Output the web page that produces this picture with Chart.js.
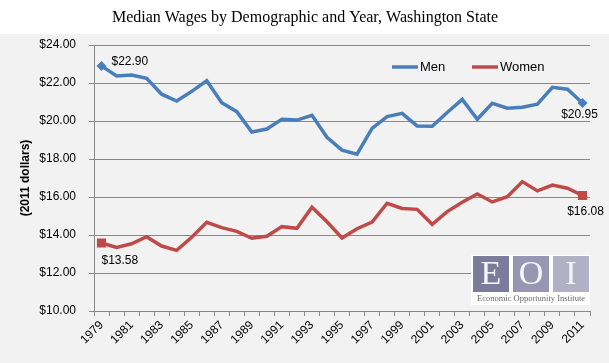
<!DOCTYPE html>
<html>
<head>
<meta charset="utf-8">
<script src="https://cdn.jsdelivr.net/npm/chart.js@4.4.1/dist/chart.umd.min.js"></script>
<style>
  html, body { margin: 0; padding: 0; background: #ffffff; }
  #wrap { width: 609px; height: 363px; position: relative; }
</style>
</head>
<body>
<div id="wrap"><canvas id="c" width="609" height="363"></canvas></div>
<script>
// ---- data ----
const years = ['1979','1980','1981','1982','1983','1984','1985','1986','1987','1988','1989',
               '1990','1991','1992','1993','1994','1995','1996','1997','1998','1999','2000',
               '2001','2002','2003','2004','2005','2006','2007','2008','2009','2010','2011'];
const menWages = [22.90, 22.37, 22.42, 22.25, 21.41, 21.05, 21.56, 22.12, 20.96, 20.49, 19.42,
                  19.58, 20.09, 20.05, 20.30, 19.14, 18.47, 18.25, 19.61, 20.23, 20.40, 19.74,
                  19.72, 20.45, 21.14, 20.09, 20.93, 20.67, 20.72, 20.89, 21.77, 21.67, 20.95];
const womenWages = [13.58, 13.35, 13.54, 13.91, 13.42, 13.19, 13.88, 14.67, 14.39, 14.19, 13.83,
                    13.93, 14.44, 14.35, 15.46, 14.70, 13.84, 14.33, 14.68, 15.67, 15.40, 15.35,
                    14.56, 15.23, 15.72, 16.16, 15.74, 16.02, 16.81, 16.32, 16.63, 16.46, 16.08];
const seriesNames = ['Men', 'Women'];
const yTicks = [10, 12, 14, 16, 18, 20, 22, 24];
const chartTitle = 'Median Wages by Demographic and Year, Washington State';
const yAxisTitle = '(2011 dollars)';
const logoLetters = ['E', 'O', 'I'];
const logoCaption = 'Economic Opportunity Institute';

// ---- styles ----
const MEN_COLOR = '#4a7ebb';
const WOMEN_COLOR = '#be4b48';
const GRID = '#888888';
const SANS = '"Liberation Sans", Arial, sans-serif';
const SERIF = '"Liberation Serif", "DejaVu Serif", serif';
const last = years.length - 1;

const endOnly = (r) => (ctx) => (ctx.dataIndex === 0 || ctx.dataIndex === last) ? r : 0;
const money = (v) => '$' + v.toFixed(2);

const bgPlugin = {
  id: 'bg',
  beforeDraw(chart) {
    const c = chart.ctx;
    c.save();
    c.fillStyle = '#ffffff';
    c.fillRect(0, 0, chart.width, chart.height);
    c.fillStyle = '#f2f2f2';
    c.fillRect(0, 34, chart.width, chart.height - 34);
    c.fillStyle = '#000';
    c.font = '16px ' + SERIF;
    c.textAlign = 'center';
    c.textBaseline = 'middle';
    c.fillText(chartTitle, 305, 18);
    c.restore();
  }
};

const annotPlugin = {
  id: 'annot',
  afterDatasetsDraw(chart) {
    const c = chart.ctx;
    c.save();
    // legend
    c.lineWidth = 3.5;
    c.lineCap = 'butt';
    const legendItems = [
      { name: seriesNames[0], color: MEN_COLOR, x0: 392, x1: 418, tx: 420 },
      { name: seriesNames[1], color: WOMEN_COLOR, x0: 472, x1: 498, tx: 500 }
    ];
    c.font = '13px ' + SANS;
    c.textBaseline = 'middle';
    c.textAlign = 'left';
    legendItems.forEach(it => {
      c.strokeStyle = it.color;
      c.beginPath(); c.moveTo(it.x0, 67); c.lineTo(it.x1, 67); c.stroke();
      c.fillStyle = '#000';
      c.fillText(it.name, it.tx, 67);
    });

    // data labels at ends
    const m = chart.getDatasetMeta(0).data;
    const w = chart.getDatasetMeta(1).data;
    c.font = '12px ' + SANS;
    c.fillStyle = '#000';
    c.textAlign = 'left';
    c.fillText(money(menWages[0]), m[0].x + 10, m[0].y - 4);
    c.textAlign = 'center';
    c.fillText(money(menWages[last]), m[last].x - 3, m[last].y + 12);
    c.textAlign = 'left';
    c.fillText(money(womenWages[0]), w[0].x, w[0].y + 18);
    c.textAlign = 'center';
    c.fillText(money(womenWages[last]), w[last].x + 3, w[last].y + 16);

    // logo
    c.fillStyle = '#ffffff';
    c.fillRect(471, 255, 119, 50);
    const boxColors = ['#7d7b9c', '#9896b2', '#b2b0c5'];
    const boxX = [473, 513, 553];
    c.font = '34px ' + SERIF;
    c.textAlign = 'center';
    c.textBaseline = 'alphabetic';
    logoLetters.forEach((L, i) => {
      c.fillStyle = boxColors[i];
      c.fillRect(boxX[i], 256, 36, 36);
      c.fillStyle = '#f6f6fa';
      c.fillText(L, boxX[i] + 18, 284);
    });
    c.fillStyle = '#6a6a6a';
    c.font = '8.5px ' + SERIF;
    c.textBaseline = 'middle';
    c.fillText(logoCaption, 531, 298.5);
    c.restore();
  }
};

new Chart(document.getElementById('c'), {
  type: 'line',
  data: {
    labels: years,
    datasets: [
      {
        label: seriesNames[0],
        data: menWages,
        borderColor: MEN_COLOR,
        backgroundColor: MEN_COLOR,
        borderWidth: 3.5,
        tension: 0,
        pointStyle: 'rectRot',
        pointRadius: endOnly(5),
        pointHoverRadius: endOnly(5),
        pointBorderWidth: 0
      },
      {
        label: seriesNames[1],
        data: womenWages,
        borderColor: WOMEN_COLOR,
        backgroundColor: WOMEN_COLOR,
        borderWidth: 3.5,
        tension: 0,
        pointStyle: 'rect',
        pointRadius: endOnly(6.5),
        pointHoverRadius: endOnly(6.5),
        pointBorderWidth: 0
      }
    ]
  },
  options: {
    responsive: false,
    animation: false,
    events: [],
    layout: { padding: { top: 45, right: 19, left: 0, bottom: 0 } },
    plugins: {
      legend: { display: false },
      title: { display: false },
      tooltip: { enabled: false }
    },
    scales: {
      x: {
        type: 'category',
        offset: true,
        grid: { display: true, drawOnChartArea: false, drawTicks: true, tickLength: 5, color: GRID, offset: true },
        border: { display: true, color: GRID, width: 1 },
        ticks: {
          autoSkip: false,
          maxRotation: 45,
          minRotation: 45,
          padding: 2,
          color: '#000',
          font: { family: SANS, size: 12 },
          callback: function(val, idx) { return idx % 2 === 0 ? this.getLabelForValue(val) : ''; }
        },
        afterFit(scale) { scale.height = 52; }
      },
      y: {
        min: yTicks[0],
        max: yTicks[yTicks.length - 1],
        afterBuildTicks(scale) { scale.ticks = yTicks.map(v => ({ value: v })); },
        grid: { color: GRID, lineWidth: 1, drawTicks: true, tickLength: 5 },
        border: { display: true, color: GRID, width: 1 },
        ticks: {
          padding: 13,
          color: '#000',
          font: { family: SANS, size: 12 },
          callback: (v) => money(v)
        },
        title: {
          display: true,
          text: yAxisTitle,
          color: '#000',
          font: { family: SANS, size: 12, weight: 'bold' },
          padding: { top: 18, bottom: 0 }
        },
        afterFit(scale) { scale.width = 94; }
      }
    }
  },
  plugins: [bgPlugin, annotPlugin]
});
</script>
</body>
</html>
